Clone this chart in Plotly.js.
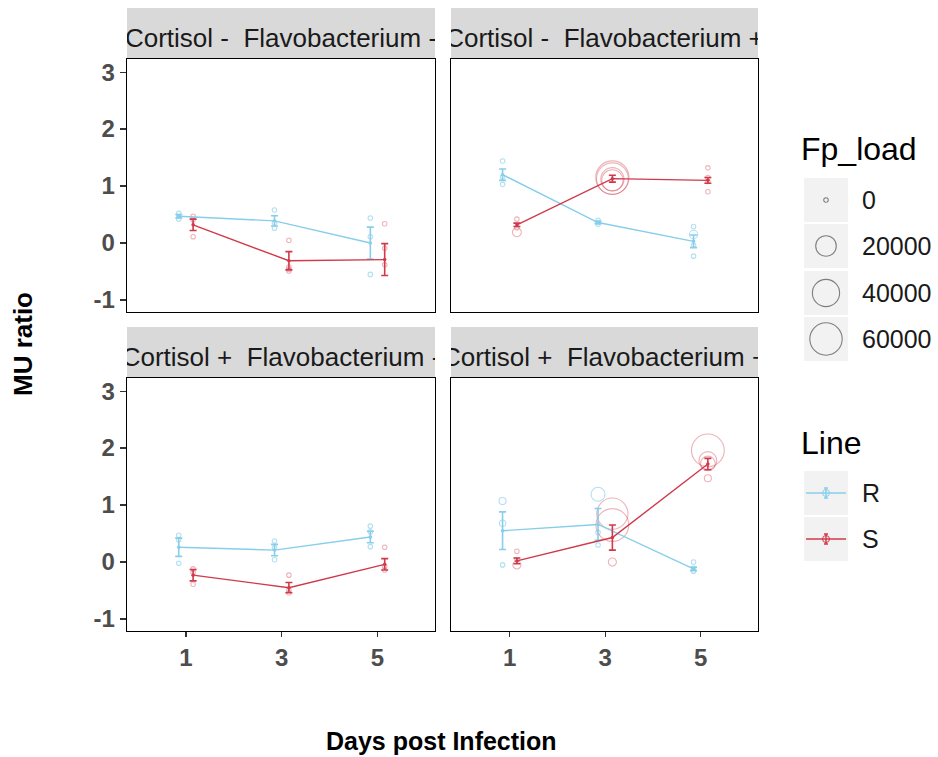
<!DOCTYPE html>
<html>
<head>
<meta charset="utf-8">
<script src="https://cdn.plot.ly/plotly-3.0.1.min.js"></script>
<style>
  html, body { margin: 0; padding: 0; background: #ffffff; }
  #chart { width: 938px; height: 757px; }
</style>
</head>
<body>
<div id="chart"></div>
<script>
// ---- Facets, days, lines ----
const facetLabels = [
  'Cortisol -  Flavobacterium -',
  'Cortisol -  Flavobacterium +',
  'Cortisol +  Flavobacterium -',
  'Cortisol +  Flavobacterium +'
];
const dayLabels = ['1', '3', '5'];
const lineNames = ['R', 'S'];
const loadLevels = [0, 20000, 40000, 60000];
const yTickVals = [-1, 0, 1, 2, 3];
const yTickText = ['-1', '0', '1', '2', '3'];

// ---- Mean MU ratio and standard error per day (days 1, 3, 5) ----
const meanR_CmFm = [0.47, 0.39, 0.00];   const seR_CmFm = [0.03, 0.09, 0.28];
const meanS_CmFm = [0.32, -0.31, -0.29]; const seS_CmFm = [0.10, 0.16, 0.28];
const meanR_CmFp = [1.20, 0.36, 0.03];   const seR_CmFp = [0.10, 0.02, 0.11];
const meanS_CmFp = [0.32, 1.13, 1.10];   const seS_CmFp = [0.03, 0.06, 0.05];
const meanR_CpFm = [0.26, 0.21, 0.44];   const seR_CpFm = [0.16, 0.10, 0.10];
const meanS_CpFm = [-0.23, -0.45, -0.04]; const seS_CpFm = [0.10, 0.09, 0.10];
const meanR_CpFp = [0.55, 0.66, -0.12];  const seR_CpFp = [0.33, 0.28, 0.03];
const meanS_CpFp = [0.02, 0.43, 1.72];   const seS_CpFp = [0.05, 0.22, 0.10];

// ---- Individual fish: day, MU ratio, Flavobacterium load ----
const fishR_CmFm_day  = [1, 1, 1, 3, 3, 3, 5, 5, 5];
const fishR_CmFm_val  = [0.52, 0.47, 0.42, 0.58, 0.35, 0.26, 0.44, 0.11, -0.55];
const fishR_CmFm_load = [0, 0, 0, 0, 0, 0, 0, 0, 0];
const fishS_CmFm_day  = [1, 1, 1, 3, 3, 3, 3, 5, 5, 5];
const fishS_CmFm_val  = [0.47, 0.41, 0.11, 0.05, -0.42, -0.46, -0.49, 0.34, -0.09, -0.38];
const fishS_CmFm_load = [0, 0, 0, 0, 0, 0, 0, 0, 0, 0];

const fishR_CmFp_day  = [1, 1, 1, 3, 3, 3, 5, 5, 5, 5];
const fishR_CmFp_val  = [1.44, 1.16, 1.03, 0.40, 0.36, 0.33, 0.29, 0.15, -0.04, -0.23];
const fishR_CmFp_load = [0, 0, 0, 0, 0, 0, 0, 1200, 0, 0];
const fishS_CmFp_day  = [1, 1, 1, 3, 3, 3, 3, 5, 5, 5, 5];
const fishS_CmFp_val  = [0.42, 0.27, 0.19, 1.15, 1.13, 1.12, 1.10, 1.32, 1.15, 1.08, 0.90];
const fishS_CmFp_load = [0, 0, 1500, 64000, 57000, 27000, 22000, 0, 0, 0, 0];

const fishR_CpFm_day  = [1, 1, 1, 3, 3, 3, 5, 5, 5];
const fishR_CpFm_val  = [0.47, 0.39, -0.02, 0.37, 0.25, 0.04, 0.63, 0.53, 0.27];
const fishR_CpFm_load = [0, 0, 0, 0, 0, 0, 0, 0, 0];
const fishS_CpFm_day  = [1, 1, 1, 3, 3, 3, 5, 5, 5];
const fishS_CpFm_val  = [-0.12, -0.18, -0.39, -0.23, -0.49, -0.54, 0.26, -0.08, -0.14];
const fishS_CpFm_load = [0, 0, 0, 0, 0, 0, 0, 0, 0];

const fishR_CpFp_day  = [1, 1, 1, 3, 3, 3, 5, 5, 5];
const fishR_CpFp_val  = [1.07, 0.68, -0.05, 1.19, 0.52, 0.30, 0.00, -0.11, -0.16];
const fishR_CpFp_load = [500, 300, 0, 7000, 0, 0, 0, 0, 0];
const fishS_CpFp_day  = [1, 1, 1, 3, 3, 3, 5, 5, 5, 5];
const fishS_CpFp_val  = [0.19, 0.04, -0.05, 0.85, 0.65, 0.00, 1.96, 1.78, 1.73, 1.47];
const fishS_CpFp_load = [0, 0, 1000, 55000, 62000, 1000, 62000, 14000, 8000, 500];

// ---- Styling ----
const W = 938, H = 757;
const FONT = '"Liberation Sans", Arial, sans-serif';
const colR = '#87CEEB', colS = '#D1394A';
const colRpt = 'rgba(120,198,232,0.8)', colSpt = 'rgba(209,57,74,0.55)';
const dodge = 0.075;
const yRange = [-1.21, 3.23];
const xRange = [0.385, 3.6];

// circle diameter (px) for a Flavobacterium load
function loadSize(v) { return 4.5 + 29 * Math.sqrt(v / 65000); }
// day label -> discrete axis position
function dayPos(d) { return dayLabels.indexOf(String(d)) + 1; }

function pxX(a, b) { return [a / W, b / W]; }
function pxY(top, bottom) { return [1 - bottom / H, 1 - top / H]; }

const panels = [
  { ax: '', mR: meanR_CmFm, sR: seR_CmFm, mS: meanS_CmFm, sS: seS_CmFm,
    fR: [fishR_CmFm_day, fishR_CmFm_val, fishR_CmFm_load], fS: [fishS_CmFm_day, fishS_CmFm_val, fishS_CmFm_load] },
  { ax: '2', mR: meanR_CmFp, sR: seR_CmFp, mS: meanS_CmFp, sS: seS_CmFp,
    fR: [fishR_CmFp_day, fishR_CmFp_val, fishR_CmFp_load], fS: [fishS_CmFp_day, fishS_CmFp_val, fishS_CmFp_load] },
  { ax: '3', mR: meanR_CpFm, sR: seR_CpFm, mS: meanS_CpFm, sS: seS_CpFm,
    fR: [fishR_CpFm_day, fishR_CpFm_val, fishR_CpFm_load], fS: [fishS_CpFm_day, fishS_CpFm_val, fishS_CpFm_load] },
  { ax: '4', mR: meanR_CpFp, sR: seR_CpFp, mS: meanS_CpFp, sS: seS_CpFp,
    fR: [fishR_CpFp_day, fishR_CpFp_val, fishR_CpFp_load], fS: [fishS_CpFp_day, fishS_CpFp_val, fishS_CpFp_load] }
];

const traces = [];
panels.forEach(p => {
  const xa = 'x' + p.ax, ya = 'y' + p.ax;
  [[p.fR, -dodge, colRpt], [p.fS, dodge, colSpt]].forEach(([f, off, c]) => {
    traces.push({
      type: 'scatter', mode: 'markers', xaxis: xa, yaxis: ya, showlegend: false,
      x: f[0].map(d => dayPos(d) + off), y: f[1],
      marker: { symbol: 'circle-open', size: f[2].map(loadSize), color: c, line: { width: 1.1, color: c } },
      hoverinfo: 'y'
    });
  });
  [[p.mR, p.sR, -dodge, colR], [p.mS, p.sS, dodge, colS]].forEach(([m, s, off, c]) => {
    traces.push({
      type: 'scatter', mode: 'lines+markers', xaxis: xa, yaxis: ya, showlegend: false,
      x: dayLabels.map(d => dayPos(d) + off), y: m,
      line: { color: c, width: 1.4 },
      marker: { symbol: 'circle', size: 3.5, color: c },
      error_y: { type: 'data', array: s, visible: true, color: c, thickness: 1.6, width: 3.5 }
    });
  });
});

// facet strip labels (clipped to the strip area)
['5', '6', '7', '8'].forEach((n, i) => {
  traces.push({
    type: 'scatter', mode: 'text', xaxis: 'x' + n, yaxis: 'y' + n, showlegend: false,
    x: [0.5], y: [0.36], text: [facetLabels[i].replace('  ', ' \u00A0')],
    textposition: 'middle center', cliponaxis: true,
    textfont: { family: FONT, size: 26, color: '#1A1A1A' }, hoverinfo: 'skip'
  });
});

// ---- Legend drawn in its own pixel-scaled subplot ----
const legX = 826;
const sizeKeyTop = [178, 224, 271, 317];
const sizeKeyH = 44;
const lineKeyTop = [471, 517];
const shapes = [];
const annotations = [];

sizeKeyTop.concat(lineKeyTop).forEach(t => shapes.push({ type: 'rect', xref: 'x9', yref: 'y9',
  x0: 804, x1: 848, y0: t, y1: t + sizeKeyH, fillcolor: '#F2F2F2', line: { width: 0 }, layer: 'below' }));

traces.push({
  type: 'scatter', mode: 'markers', xaxis: 'x9', yaxis: 'y9', showlegend: false, hoverinfo: 'skip',
  x: loadLevels.map(() => legX), y: sizeKeyTop.map(t => t + sizeKeyH / 2),
  marker: { symbol: 'circle-open', size: loadLevels.map(loadSize), color: '#4D4D4D', line: { width: 1.1, color: '#4D4D4D' } }
});
loadLevels.forEach((v, i) => annotations.push({ xref: 'x9', yref: 'y9', x: 860, y: sizeKeyTop[i] + sizeKeyH / 2,
  text: String(v), showarrow: false, xanchor: 'left', yanchor: 'middle',
  font: { family: FONT, size: 25, color: '#1A1A1A' } }));

lineNames.forEach((nm, i) => {
  const c = i === 0 ? colR : colS;
  const cy = lineKeyTop[i] + sizeKeyH / 2;
  traces.push({
    type: 'scatter', mode: 'lines', xaxis: 'x9', yaxis: 'y9', showlegend: false, hoverinfo: 'skip',
    x: [806, 846], y: [cy, cy], line: { color: c, width: 1.4 }
  });
  traces.push({
    type: 'scatter', mode: 'markers', xaxis: 'x9', yaxis: 'y9', showlegend: false, hoverinfo: 'skip',
    x: [legX], y: [cy], marker: { symbol: 'circle-open', size: 7, color: c, line: { width: 1, color: c } },
    error_y: { type: 'constant', value: 5, visible: true, color: c, thickness: 1.4, width: 2 }
  });
  annotations.push({ xref: 'x9', yref: 'y9', x: 860, y: cy, text: nm, showarrow: false,
    xanchor: 'left', yanchor: 'middle', font: { family: FONT, size: 25, color: '#1A1A1A' } });
});

annotations.push({ xref: 'x9', yref: 'y9', x: 799, y: 149, text: 'Fp_load', showarrow: false,
  xanchor: 'left', yanchor: 'middle', font: { family: FONT, size: 32, color: '#000000' } });
annotations.push({ xref: 'x9', yref: 'y9', x: 799, y: 443, text: 'Line', showarrow: false,
  xanchor: 'left', yanchor: 'middle', font: { family: FONT, size: 32, color: '#000000' } });

// axis titles
annotations.push({ xref: 'paper', yref: 'paper', x: 23 / W, y: 1 - 344 / H, text: 'MU ratio', showarrow: false,
  textangle: -90, xanchor: 'center', yanchor: 'middle',
  font: { family: FONT, size: 26, color: '#000000', weight: 'bold' } });
annotations.push({ xref: 'paper', yref: 'paper', x: 441 / W, y: 1 - 741 / H, text: 'Days post Infection', showarrow: false,
  xanchor: 'center', yanchor: 'middle',
  font: { family: FONT, size: 25, color: '#000000', weight: 'bold' } });

// strip backgrounds
['5', '6', '7', '8'].forEach(n => shapes.push({ type: 'rect', xref: 'x' + n + ' domain', yref: 'y' + n + ' domain',
  x0: 0, x1: 1, y0: 0, y1: 1, fillcolor: '#D9D9D9', line: { width: 0 }, layer: 'below' }));

// ---- Axes ----
const tickFont = { family: FONT, size: 24, color: '#4D4D4D', weight: 'bold' };
function panelX(dom, labels, anchor) {
  return {
    domain: dom, range: xRange, showgrid: false, zeroline: false, anchor: anchor,
    showline: true, mirror: true, linecolor: '#000000', linewidth: 1.3,
    tickvals: dayLabels.map(dayPos), ticktext: dayLabels,
    ticks: labels ? 'outside' : '', ticklen: 5, tickcolor: '#333333', tickwidth: 1.2,
    showticklabels: labels, tickfont: tickFont
  };
}
function panelY(dom, labels, anchor) {
  return {
    domain: dom, range: yRange, showgrid: false, zeroline: false, anchor: anchor,
    showline: true, mirror: true, linecolor: '#000000', linewidth: 1.3,
    tickvals: yTickVals, ticktext: yTickText, ticks: labels ? 'outside' : '', ticklen: 6,
    tickcolor: '#333333', tickwidth: 1.2, showticklabels: labels, tickfont: tickFont
  };
}
function hiddenAxis(dom, anchor, range) {
  return { domain: dom, range: range || [0, 1], visible: false, fixedrange: true, anchor: anchor };
}

const colL = pxX(127, 435), colRt = pxX(451, 758);
const rowT = pxY(59, 312), rowB = pxY(378, 631);
const stripT = pxY(8, 58), stripB = pxY(327, 377);

const layout = {
  width: W, height: H,
  margin: { l: 0, r: 0, t: 0, b: 0 },
  paper_bgcolor: '#FFFFFF', plot_bgcolor: 'rgba(0,0,0,0)',
  showlegend: false,
  font: { family: FONT },
  xaxis:  panelX(colL, false, 'y'),
  yaxis:  panelY(rowT, true, 'x'),
  xaxis2: panelX(colRt, false, 'y2'),
  yaxis2: panelY(rowT, false, 'x2'),
  xaxis3: panelX(colL, true, 'y3'),
  yaxis3: panelY(rowB, true, 'x3'),
  xaxis4: panelX(colRt, true, 'y4'),
  yaxis4: panelY(rowB, false, 'x4'),
  xaxis5: hiddenAxis(colL, 'y5'),  yaxis5: hiddenAxis(stripT, 'x5'),
  xaxis6: hiddenAxis(colRt, 'y6'), yaxis6: hiddenAxis(stripT, 'x6'),
  xaxis7: hiddenAxis(colL, 'y7'),  yaxis7: hiddenAxis(stripB, 'x7'),
  xaxis8: hiddenAxis(colRt, 'y8'), yaxis8: hiddenAxis(stripB, 'x8'),
  xaxis9: hiddenAxis(pxX(780, 938), 'y9', [780, 938]),
  yaxis9: hiddenAxis([0, 1], 'x9', [757, 0]),
  shapes: shapes,
  annotations: annotations
};

Plotly.newPlot('chart', traces, layout, { staticPlot: true, displayModeBar: false });
</script>
</body>
</html>
